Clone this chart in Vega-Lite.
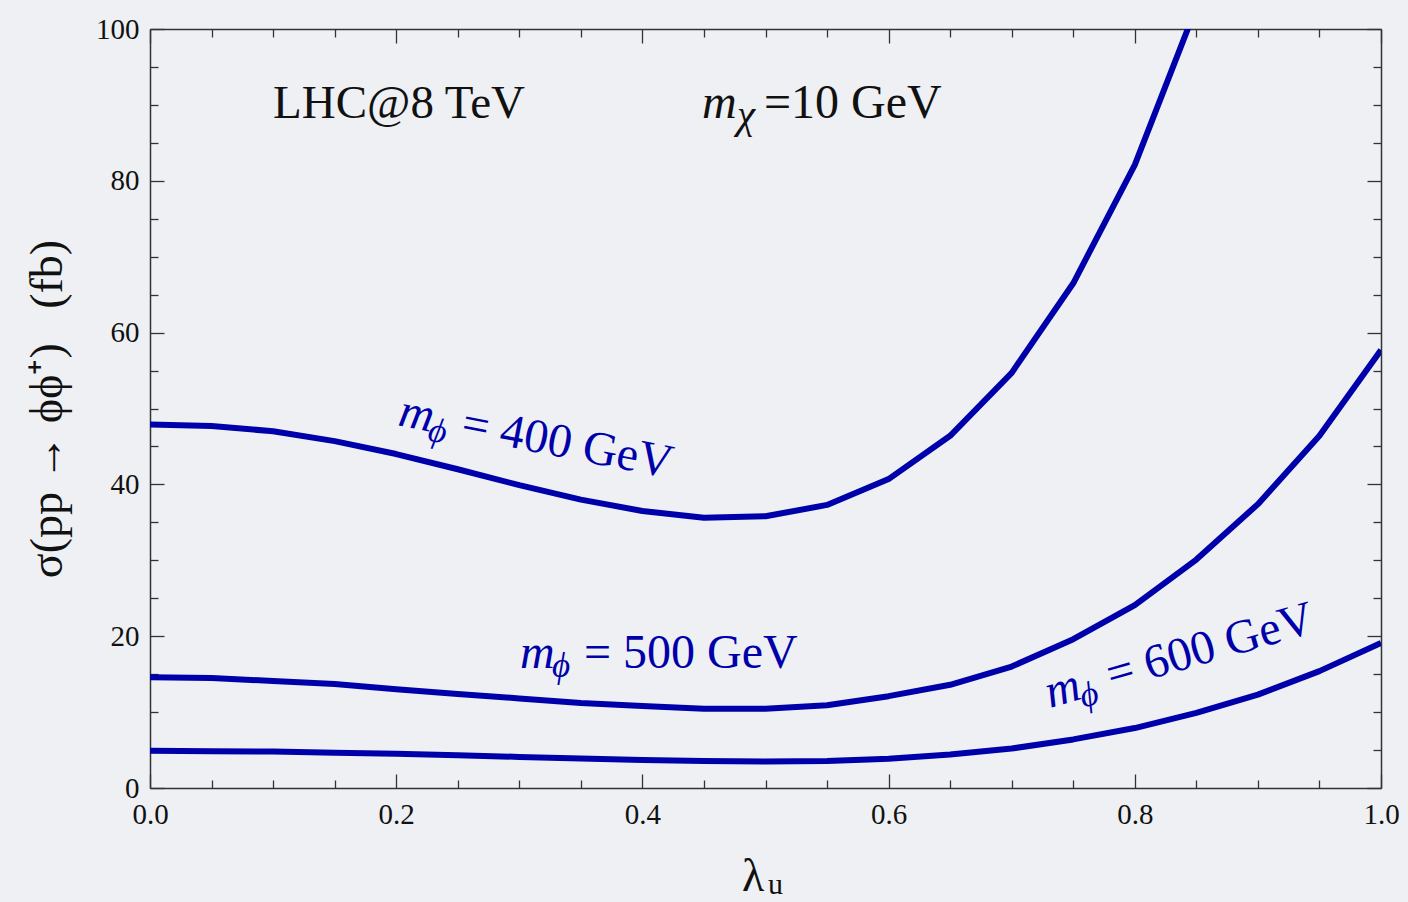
{
  "$schema": "https://vega.github.io/schema/vega-lite/v6.json",
  "width": 1231,
  "height": 759,
  "autosize": {"type": "none"},
  "padding": {"left": 150, "top": 29, "right": 27, "bottom": 114},
  "background": "#eef0f4",
  "config": {
    "view": {"stroke": null},
    "font": "Liberation Serif",
    "axis": {
      "grid": false,
      "domainColor": "#333333",
      "domainWidth": 1.5,
      "tickColor": "#333333",
      "tickWidth": 1.3,
      "labelFont": "Liberation Serif",
      "labelFontSize": 29,
      "labelColor": "#111111",
      "labelFlush": false,
      "labelOverlap": false,
      "titleFont": "Liberation Serif",
      "titleFontWeight": "normal",
      "titleColor": "#111111"
    },
    "text": {"font": "Liberation Serif"}
  },
  "datasets": {
    "curves": [
      {"lam": 0.00, "sigma": 47.9, "mass": "400 GeV"},
      {"lam": 0.05, "sigma": 47.7, "mass": "400 GeV"},
      {"lam": 0.10, "sigma": 47.0, "mass": "400 GeV"},
      {"lam": 0.15, "sigma": 45.7, "mass": "400 GeV"},
      {"lam": 0.20, "sigma": 44.0, "mass": "400 GeV"},
      {"lam": 0.25, "sigma": 42.0, "mass": "400 GeV"},
      {"lam": 0.30, "sigma": 39.9, "mass": "400 GeV"},
      {"lam": 0.35, "sigma": 38.0, "mass": "400 GeV"},
      {"lam": 0.40, "sigma": 36.5, "mass": "400 GeV"},
      {"lam": 0.45, "sigma": 35.6, "mass": "400 GeV"},
      {"lam": 0.50, "sigma": 35.8, "mass": "400 GeV"},
      {"lam": 0.55, "sigma": 37.3, "mass": "400 GeV"},
      {"lam": 0.60, "sigma": 40.7, "mass": "400 GeV"},
      {"lam": 0.65, "sigma": 46.4, "mass": "400 GeV"},
      {"lam": 0.70, "sigma": 54.7, "mass": "400 GeV"},
      {"lam": 0.75, "sigma": 66.5, "mass": "400 GeV"},
      {"lam": 0.80, "sigma": 82.1, "mass": "400 GeV"},
      {"lam": 0.85, "sigma": 102.9, "mass": "400 GeV"},
      {"lam": 0.00, "sigma": 14.6, "mass": "500 GeV"},
      {"lam": 0.05, "sigma": 14.5, "mass": "500 GeV"},
      {"lam": 0.10, "sigma": 14.1, "mass": "500 GeV"},
      {"lam": 0.15, "sigma": 13.7, "mass": "500 GeV"},
      {"lam": 0.20, "sigma": 13.0, "mass": "500 GeV"},
      {"lam": 0.25, "sigma": 12.4, "mass": "500 GeV"},
      {"lam": 0.30, "sigma": 11.8, "mass": "500 GeV"},
      {"lam": 0.35, "sigma": 11.2, "mass": "500 GeV"},
      {"lam": 0.40, "sigma": 10.8, "mass": "500 GeV"},
      {"lam": 0.45, "sigma": 10.45, "mass": "500 GeV"},
      {"lam": 0.50, "sigma": 10.45, "mass": "500 GeV"},
      {"lam": 0.55, "sigma": 10.9, "mass": "500 GeV"},
      {"lam": 0.60, "sigma": 12.1, "mass": "500 GeV"},
      {"lam": 0.65, "sigma": 13.6, "mass": "500 GeV"},
      {"lam": 0.70, "sigma": 16.0, "mass": "500 GeV"},
      {"lam": 0.75, "sigma": 19.6, "mass": "500 GeV"},
      {"lam": 0.80, "sigma": 24.1, "mass": "500 GeV"},
      {"lam": 0.85, "sigma": 30.1, "mass": "500 GeV"},
      {"lam": 0.90, "sigma": 37.4, "mass": "500 GeV"},
      {"lam": 0.95, "sigma": 46.4, "mass": "500 GeV"},
      {"lam": 1.00, "sigma": 57.7, "mass": "500 GeV"},
      {"lam": 0.00, "sigma": 4.9, "mass": "600 GeV"},
      {"lam": 0.05, "sigma": 4.85, "mass": "600 GeV"},
      {"lam": 0.10, "sigma": 4.8, "mass": "600 GeV"},
      {"lam": 0.15, "sigma": 4.65, "mass": "600 GeV"},
      {"lam": 0.20, "sigma": 4.5, "mass": "600 GeV"},
      {"lam": 0.25, "sigma": 4.3, "mass": "600 GeV"},
      {"lam": 0.30, "sigma": 4.1, "mass": "600 GeV"},
      {"lam": 0.35, "sigma": 3.9, "mass": "600 GeV"},
      {"lam": 0.40, "sigma": 3.7, "mass": "600 GeV"},
      {"lam": 0.45, "sigma": 3.55, "mass": "600 GeV"},
      {"lam": 0.50, "sigma": 3.5, "mass": "600 GeV"},
      {"lam": 0.55, "sigma": 3.55, "mass": "600 GeV"},
      {"lam": 0.60, "sigma": 3.85, "mass": "600 GeV"},
      {"lam": 0.65, "sigma": 4.4, "mass": "600 GeV"},
      {"lam": 0.70, "sigma": 5.2, "mass": "600 GeV"},
      {"lam": 0.75, "sigma": 6.4, "mass": "600 GeV"},
      {"lam": 0.80, "sigma": 7.9, "mass": "600 GeV"},
      {"lam": 0.85, "sigma": 9.9, "mass": "600 GeV"},
      {"lam": 0.90, "sigma": 12.3, "mass": "600 GeV"},
      {"lam": 0.95, "sigma": 15.4, "mass": "600 GeV"},
      {"lam": 1.00, "sigma": 19.1, "mass": "600 GeV"}
    ],
    "notes": [
      {"key": "lhc", "lam": 0.1, "sigma": 88.3, "text": "LHC@8 TeV"},
      {"key": "mchi", "lam": 0.4484, "sigma": 88.3, "text": "=10 GeV"},
      {"key": "l400", "lam": 0.2006, "sigma": 47.8, "text": "= 400 GeV"},
      {"key": "l500", "lam": 0.3006, "sigma": 15.8, "text": "= 500 GeV"},
      {"key": "l600", "lam": 0.7311, "sigma": 10.54, "text": "= 600 GeV"},
      {"key": "xtitle", "lam": 0.481, "sigma": -13.6, "text": "λ"}
    ]
  },
  "resolve": {"axis": {"x": "independent", "y": "independent"}},
  "layer": [
    {
      "data": {"name": "curves"},
      "mark": {"type": "line", "strokeOpacity": 0},
      "encoding": {
        "x": {"field": "lam", "type": "quantitative", "scale": {"domain": [0, 1], "nice": false, "zero": false},
          "axis": {"orient": "bottom", "title": null, "labels": false, "domain": false, "tickSize": -8,
            "values": [0.05, 0.1, 0.15, 0.25, 0.3, 0.35, 0.45, 0.5, 0.55, 0.65, 0.7, 0.75, 0.85, 0.9, 0.95]}},
        "y": {"field": "sigma", "type": "quantitative", "scale": {"domain": [0, 100], "nice": false, "zero": false},
          "axis": {"orient": "left", "title": null, "labels": false, "domain": false, "tickSize": -8,
            "values": [5, 10, 15, 25, 30, 35, 45, 50, 55, 65, 70, 75, 85, 90, 95]}},
        "detail": {"field": "mass"}
      }
    },
    {
      "data": {"name": "curves"},
      "mark": {"type": "line", "strokeOpacity": 0},
      "encoding": {
        "x": {"field": "lam", "type": "quantitative", "scale": {"domain": [0, 1], "nice": false, "zero": false},
          "axis": {"orient": "top", "title": null, "labels": false, "domain": true, "tickSize": -14,
            "values": [0, 0.2, 0.4, 0.6, 0.8, 1]}},
        "y": {"field": "sigma", "type": "quantitative", "scale": {"domain": [0, 100], "nice": false, "zero": false},
          "axis": {"orient": "right", "title": null, "labels": false, "domain": true, "tickSize": -14,
            "values": [0, 20, 40, 60, 80, 100]}},
        "detail": {"field": "mass"}
      }
    },
    {
      "data": {"name": "curves"},
      "mark": {"type": "line", "strokeOpacity": 0},
      "encoding": {
        "x": {"field": "lam", "type": "quantitative", "scale": {"domain": [0, 1], "nice": false, "zero": false},
          "axis": {"orient": "top", "title": null, "labels": false, "domain": false, "tickSize": -8,
            "values": [0.05, 0.1, 0.15, 0.25, 0.3, 0.35, 0.45, 0.5, 0.55, 0.65, 0.7, 0.75, 0.85, 0.9, 0.95]}},
        "y": {"field": "sigma", "type": "quantitative", "scale": {"domain": [0, 100], "nice": false, "zero": false},
          "axis": {"orient": "right", "title": null, "labels": false, "domain": false, "tickSize": -8,
            "values": [5, 10, 15, 25, 30, 35, 45, 50, 55, 65, 70, 75, 85, 90, 95]}},
        "detail": {"field": "mass"}
      }
    },
    {
      "data": {"name": "curves"},
      "mark": {"type": "line", "color": "#0000aa", "strokeWidth": 6, "clip": true, "strokeJoin": "round"},
      "encoding": {
        "x": {"field": "lam", "type": "quantitative", "scale": {"domain": [0, 1], "nice": false, "zero": false},
          "axis": {"orient": "bottom", "title": null, "tickSize": -14, "labelPadding": 26, "format": ".1f",
            "values": [0, 0.2, 0.4, 0.6, 0.8, 1]}},
        "y": {"field": "sigma", "type": "quantitative", "scale": {"domain": [0, 100], "nice": false, "zero": false},
          "axis": {"orient": "left", "title": "σ(pp\u00a0→\u00a0ϕϕ⁺)\u00a0\u00a0\u00a0(fb)", "titleFontSize": 46, "titlePadding": 24,
            "tickSize": -14, "labelPadding": 25, "values": [0, 20, 40, 60, 80, 100]}},
        "detail": {"field": "mass"}
      }
    },
    {
      "data": {"name": "notes"},
      "transform": [{"filter": "datum.key == 'lhc'"}],
      "mark": {"type": "text", "fontSize": 47, "align": "left", "baseline": "alphabetic", "color": "#111111"},
      "encoding": {
        "x": {"field": "lam", "type": "quantitative", "scale": {"domain": [0, 1], "nice": false, "zero": false}, "axis": null},
        "y": {"field": "sigma", "type": "quantitative", "scale": {"domain": [0, 100], "nice": false, "zero": false}, "axis": null},
        "text": {"field": "text"}
      }
    },
    {
      "data": {"name": "notes"},
      "transform": [{"filter": "datum.key == 'mchi'"}],
      "mark": {"type": "text", "fontSize": 48, "fontStyle": "italic", "align": "left", "baseline": "alphabetic", "color": "#111111", "text": "m"},
      "encoding": {
        "x": {"field": "lam", "type": "quantitative", "scale": {"domain": [0, 1], "nice": false, "zero": false}, "axis": null},
        "y": {"field": "sigma", "type": "quantitative", "scale": {"domain": [0, 100], "nice": false, "zero": false}, "axis": null}
      }
    },
    {
      "data": {"name": "notes"},
      "transform": [{"filter": "datum.key == 'mchi'"}],
      "mark": {"type": "text", "fontSize": 41, "fontStyle": "italic", "align": "left", "baseline": "alphabetic", "color": "#111111", "text": "χ", "dx": 35, "dy": 10},
      "encoding": {
        "x": {"field": "lam", "type": "quantitative", "scale": {"domain": [0, 1], "nice": false, "zero": false}, "axis": null},
        "y": {"field": "sigma", "type": "quantitative", "scale": {"domain": [0, 100], "nice": false, "zero": false}, "axis": null}
      }
    },
    {
      "data": {"name": "notes"},
      "transform": [{"filter": "datum.key == 'mchi'"}],
      "mark": {"type": "text", "fontSize": 48, "align": "left", "baseline": "alphabetic", "color": "#111111", "dx": 62},
      "encoding": {
        "x": {"field": "lam", "type": "quantitative", "scale": {"domain": [0, 1], "nice": false, "zero": false}, "axis": null},
        "y": {"field": "sigma", "type": "quantitative", "scale": {"domain": [0, 100], "nice": false, "zero": false}, "axis": null},
        "text": {"field": "text"}
      }
    },
    {
      "data": {"name": "notes"},
      "transform": [{"filter": "datum.key == 'l400'"}],
      "mark": {"type": "text", "fontSize": 48, "fontStyle": "italic", "align": "left", "baseline": "alphabetic", "color": "#0000aa", "angle": 11, "text": "m"},
      "encoding": {
        "x": {"field": "lam", "type": "quantitative", "scale": {"domain": [0, 1], "nice": false, "zero": false}, "axis": null},
        "y": {"field": "sigma", "type": "quantitative", "scale": {"domain": [0, 100], "nice": false, "zero": false}, "axis": null}
      }
    },
    {
      "data": {"name": "notes"},
      "transform": [{"filter": "datum.key == 'l400'"}],
      "mark": {"type": "text", "fontSize": 35, "fontStyle": "italic", "align": "left", "baseline": "alphabetic", "color": "#0000aa", "angle": 11, "text": "ϕ", "dx": 32, "dy": 9},
      "encoding": {
        "x": {"field": "lam", "type": "quantitative", "scale": {"domain": [0, 1], "nice": false, "zero": false}, "axis": null},
        "y": {"field": "sigma", "type": "quantitative", "scale": {"domain": [0, 100], "nice": false, "zero": false}, "axis": null}
      }
    },
    {
      "data": {"name": "notes"},
      "transform": [{"filter": "datum.key == 'l400'"}],
      "mark": {"type": "text", "fontSize": 48, "align": "left", "baseline": "alphabetic", "color": "#0000aa", "angle": 11, "dx": 64},
      "encoding": {
        "x": {"field": "lam", "type": "quantitative", "scale": {"domain": [0, 1], "nice": false, "zero": false}, "axis": null},
        "y": {"field": "sigma", "type": "quantitative", "scale": {"domain": [0, 100], "nice": false, "zero": false}, "axis": null},
        "text": {"field": "text"}
      }
    },
    {
      "data": {"name": "notes"},
      "transform": [{"filter": "datum.key == 'l500'"}],
      "mark": {"type": "text", "fontSize": 48, "fontStyle": "italic", "align": "left", "baseline": "alphabetic", "color": "#0000aa", "text": "m"},
      "encoding": {
        "x": {"field": "lam", "type": "quantitative", "scale": {"domain": [0, 1], "nice": false, "zero": false}, "axis": null},
        "y": {"field": "sigma", "type": "quantitative", "scale": {"domain": [0, 100], "nice": false, "zero": false}, "axis": null}
      }
    },
    {
      "data": {"name": "notes"},
      "transform": [{"filter": "datum.key == 'l500'"}],
      "mark": {"type": "text", "fontSize": 35, "fontStyle": "italic", "align": "left", "baseline": "alphabetic", "color": "#0000aa", "text": "ϕ", "dx": 32, "dy": 9},
      "encoding": {
        "x": {"field": "lam", "type": "quantitative", "scale": {"domain": [0, 1], "nice": false, "zero": false}, "axis": null},
        "y": {"field": "sigma", "type": "quantitative", "scale": {"domain": [0, 100], "nice": false, "zero": false}, "axis": null}
      }
    },
    {
      "data": {"name": "notes"},
      "transform": [{"filter": "datum.key == 'l500'"}],
      "mark": {"type": "text", "fontSize": 48, "align": "left", "baseline": "alphabetic", "color": "#0000aa", "dx": 64},
      "encoding": {
        "x": {"field": "lam", "type": "quantitative", "scale": {"domain": [0, 1], "nice": false, "zero": false}, "axis": null},
        "y": {"field": "sigma", "type": "quantitative", "scale": {"domain": [0, 100], "nice": false, "zero": false}, "axis": null},
        "text": {"field": "text"}
      }
    },
    {
      "data": {"name": "notes"},
      "transform": [{"filter": "datum.key == 'l600'"}],
      "mark": {"type": "text", "fontSize": 48, "fontStyle": "italic", "align": "left", "baseline": "alphabetic", "color": "#0000aa", "angle": -16, "text": "m"},
      "encoding": {
        "x": {"field": "lam", "type": "quantitative", "scale": {"domain": [0, 1], "nice": false, "zero": false}, "axis": null},
        "y": {"field": "sigma", "type": "quantitative", "scale": {"domain": [0, 100], "nice": false, "zero": false}, "axis": null}
      }
    },
    {
      "data": {"name": "notes"},
      "transform": [{"filter": "datum.key == 'l600'"}],
      "mark": {"type": "text", "fontSize": 35, "fontStyle": "italic", "align": "left", "baseline": "alphabetic", "color": "#0000aa", "angle": -16, "text": "ϕ", "dx": 32, "dy": 9},
      "encoding": {
        "x": {"field": "lam", "type": "quantitative", "scale": {"domain": [0, 1], "nice": false, "zero": false}, "axis": null},
        "y": {"field": "sigma", "type": "quantitative", "scale": {"domain": [0, 100], "nice": false, "zero": false}, "axis": null}
      }
    },
    {
      "data": {"name": "notes"},
      "transform": [{"filter": "datum.key == 'l600'"}],
      "mark": {"type": "text", "fontSize": 48, "align": "left", "baseline": "alphabetic", "color": "#0000aa", "angle": -16, "dx": 64},
      "encoding": {
        "x": {"field": "lam", "type": "quantitative", "scale": {"domain": [0, 1], "nice": false, "zero": false}, "axis": null},
        "y": {"field": "sigma", "type": "quantitative", "scale": {"domain": [0, 100], "nice": false, "zero": false}, "axis": null},
        "text": {"field": "text"}
      }
    },
    {
      "data": {"name": "notes"},
      "transform": [{"filter": "datum.key == 'xtitle'"}],
      "mark": {"type": "text", "fontSize": 46, "align": "left", "baseline": "alphabetic", "color": "#111111"},
      "encoding": {
        "x": {"field": "lam", "type": "quantitative", "scale": {"domain": [0, 1], "nice": false, "zero": false}, "axis": null},
        "y": {"field": "sigma", "type": "quantitative", "scale": {"domain": [0, 100], "nice": false, "zero": false}, "axis": null},
        "text": {"field": "text"}
      }
    },
    {
      "data": {"name": "notes"},
      "transform": [{"filter": "datum.key == 'xtitle'"}],
      "mark": {"type": "text", "fontSize": 30, "align": "left", "baseline": "alphabetic", "color": "#111111", "text": "u", "dx": 26, "dy": 3},
      "encoding": {
        "x": {"field": "lam", "type": "quantitative", "scale": {"domain": [0, 1], "nice": false, "zero": false}, "axis": null},
        "y": {"field": "sigma", "type": "quantitative", "scale": {"domain": [0, 100], "nice": false, "zero": false}, "axis": null}
      }
    }
  ]
}
